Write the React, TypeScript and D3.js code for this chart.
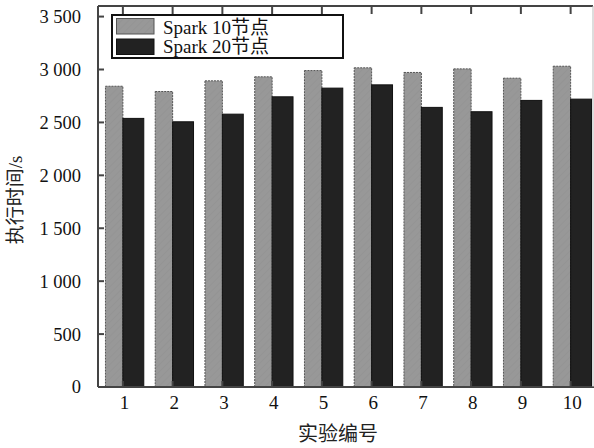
import React from 'react';
import { scaleBand, scaleLinear } from 'd3';

const W = 594;
const H = 448;
const margin = { top: 6, right: 0, bottom: 61, left: 98 };

const experiments = ['1', '2', '3', '4', '5', '6', '7', '8', '9', '10'];
const spark10 = [2842, 2792, 2893, 2931, 2990, 3016, 2972, 3006, 2918, 3031];
const spark20 = [2538, 2506, 2578, 2742, 2824, 2855, 2642, 2601, 2708, 2720];
const yTicks = [0, 500, 1000, 1500, 2000, 2500, 3000, 3500];
const seriesNames = ['Spark 10节点', 'Spark 20节点'];

const serif = '"Liberation Serif", "Times New Roman", "Noto Sans CJK SC", serif';
const cjk = '"Noto Sans CJK SC", sans-serif';

const fmt = (v: number) => (v >= 1000 ? `${Math.floor(v / 1000)} ${String(v % 1000).padStart(3, '0')}` : String(v));

export default function App() {
  const bottom = 387;
  const xScale = scaleBand<string>().domain(experiments).range([margin.left, 595.5]).padding(0);
  const yScale = scaleLinear().domain([0, 3600]).range([bottom, margin.top]);
  const step = xScale.bandwidth();
  const greyW = step * 0.35;
  const darkW = step * 0.42;
  const right = 593;

  return (
    <svg width={W} height={H} style={{ position: 'absolute', left: 0, top: 0, background: '#fff' }}>
      <defs>
        <pattern id="hatch" patternUnits="userSpaceOnUse" width="5" height="5" patternTransform="rotate(45)">
          <rect width="5" height="5" fill="#989898" />
          <line x1="0" y1="0" x2="0" y2="5" stroke="#919191" strokeWidth="1" />
        </pattern>
      </defs>

      {experiments.map((e, i) => {
        const c = (xScale(e) as number) + step / 2;
        return (
          <g key={e}>
            <rect x={c - greyW} y={yScale(spark10[i])} width={greyW} height={bottom - yScale(spark10[i])}
              fill="url(#hatch)" stroke="#555" strokeWidth={1} strokeDasharray="2 1" />
            <rect x={c} y={yScale(spark20[i])} width={darkW} height={bottom - yScale(spark20[i])}
              fill="#222" stroke="#111" strokeWidth={1} />
          </g>
        );
      })}

      {/* frame */}
      <line x1={margin.left} x2={right} y1={margin.top} y2={margin.top} stroke="#444" strokeWidth={2} />
      <line x1={margin.left} x2={margin.left} y1={margin.top} y2={bottom} stroke="#444" strokeWidth={2} />
      <line x1={margin.left} x2={right + 2} y1={bottom} y2={bottom} stroke="#444" strokeWidth={2} />
      <line x1={right} x2={right} y1={margin.top} y2={bottom} stroke="#bbb" strokeWidth={1} />

      {/* y axis */}
      {yTicks.map((t) => (
        <g key={t}>
          <line x1={margin.left} x2={margin.left + 6} y1={yScale(t)} y2={yScale(t)} stroke="#444" strokeWidth={2} />
          <text x={81} y={yScale(t)} dy="0.35em" textAnchor="end" fontFamily={serif} fontSize={18.5} fill="#111">{fmt(t)}</text>
        </g>
      ))}

      {/* x axis */}
      {experiments.map((e) => {
        const c = (xScale(e) as number) + step / 2;
        return (
          <g key={e}>
            <line x1={c} x2={c} y1={margin.top} y2={margin.top + 8} stroke="#444" strokeWidth={2} />
            <line x1={c} x2={c} y1={bottom} y2={bottom - 6} stroke="#444" strokeWidth={2} />
            <text x={c + 1.5} y={409} textAnchor="middle" fontFamily={serif} fontSize={19} fill="#111">{e}</text>
          </g>
        );
      })}

      {/* axis titles */}
      <text transform="translate(22,200) rotate(-90)" textAnchor="middle" fontFamily={cjk} fontSize={19} fill="#222">
        执行时间<tspan fontFamily={serif}>/s</tspan>
      </text>
      <text x={338} y={441} textAnchor="middle" fontFamily={cjk} fontSize={20} fill="#222">实验编号</text>

      {/* legend */}
      <rect x={112} y={15} width={231} height={43} fill="#fff" stroke="#111" strokeWidth={2} />
      <rect x={116.5} y={18.5} width={37.5} height={15.5} fill="url(#hatch)" stroke="#555" strokeWidth={1} />
      <rect x={116.5} y={39} width={37.5} height={15.5} fill="#222" stroke="#111" strokeWidth={1} />
      {seriesNames.map((s, i) => (
        <text key={s} x={163} y={33.5 + i * 19} fontFamily={serif} fontSize={19} fill="#111">{s}</text>
      ))}
    </svg>
  );
}
